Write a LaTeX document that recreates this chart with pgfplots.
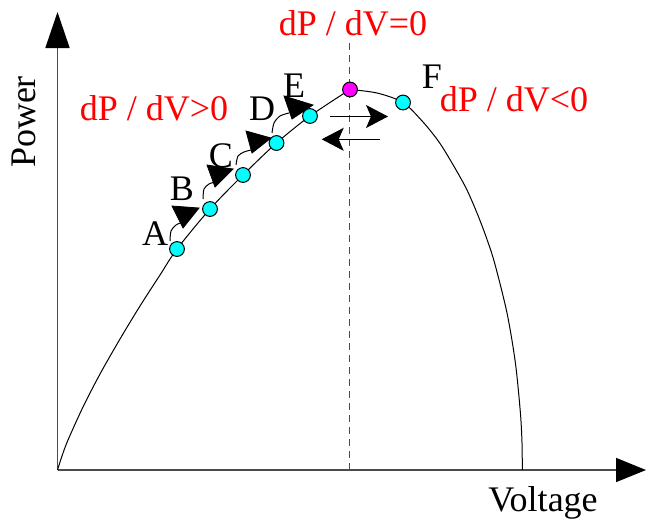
\documentclass[border=0pt]{standalone}
\usepackage{pgfplots}
\pgfplotsset{compat=1.18}
\usetikzlibrary{arrows.meta}
\usepackage{fontspec}
\setmainfont{Liberation Serif}
\definecolor{ptcyan}{RGB}{0,255,255}
\definecolor{ptmag}{RGB}{255,0,255}
\definecolor{txtred}{RGB}{255,0,0}
\newcommand\lbl{\fontsize{18}{21}\selectfont}
\begin{document}
\begin{tikzpicture}
\begin{axis}[hide axis, clip=false, scale only axis, x=0.5pt, y=0.5pt, y dir=reverse,
  xmin=0, xmax=646, ymin=0, ymax=525]
\coordinate (ll) at (axis cs:0,525);
\coordinate (ur) at (axis cs:646,0);
% axes
\addplot[line width=0.8pt, black!70, -{Triangle[length=18pt,width=12pt,color=black]}] coordinates {(57.5,470) (57.5,12)};
\addplot[line width=0.8pt, black!70, -{Triangle[length=15pt,width=12pt,color=black]}] coordinates {(57.5,470) (646,470)};
% dashed line
\addplot[black!70, line width=0.5pt, dash pattern=on 3.5pt off 2.5pt] coordinates {(349.5,43) (349.5,470)};
% P-V curve
\addplot[black, line width=0.5pt, smooth] coordinates {
(57.5,470) (62,456) (68,440) (83,407) (100,374) (120,339) (140,306) (160,275) (177,249)
(210,209) (243,175) (276.5,143) (310,116) (350,89.5)};
\addplot[black, line width=0.5pt, smooth] coordinates {
(350,89.5) (377,93) (403,102.5) (423,122) (439,142) (452,163) (466,188) (477,213) (486.5,238) (494.6,263) (507,313) (515.4,363) (520.4,413) (522,443) (522.3,470)};
% small arcs with arrowheads
\addplot[black, line width=0.5pt, smooth] coordinates {(170,241) (171,231) (176,225) (183,222)};
\addplot[black, fill=black] coordinates {(172,206) (199,208) (183,228)} -- cycle;
\addplot[black, line width=0.5pt, smooth] coordinates {(203,199) (204,189) (209,184) (215,182)};
\addplot[black, fill=black] coordinates {(207,165) (233,169) (215,187)} -- cycle;
\addplot[black, line width=0.5pt, smooth] coordinates {(236,165) (238,156) (244,152) (251,150)};
\addplot[black, fill=black] coordinates {(246,131) (271,138) (252,153)} -- cycle;
\addplot[black, line width=0.5pt, smooth] coordinates {(272,133) (274,123) (280,116) (289,113)};
\addplot[black, fill=black] coordinates {(284,96) (313,105) (292,119)} -- cycle;
% arrows near maximum
\addplot[black, line width=0.5pt, -{Stealth[length=11pt,width=11.5pt,inset=2.5pt]}] coordinates {(330,116.5) (388,116.5)};
\addplot[black, line width=0.5pt, -{Stealth[length=11pt,width=11.5pt,inset=2.5pt]}] coordinates {(380,139.3) (321.7,139.3)};
% operating points
\addplot[only marks, mark=*, mark size=3.7pt, mark options={fill=ptcyan, draw=black, line width=0.5pt}] coordinates {
(177,249) (210,209) (243,175) (276.5,143) (310,116) (403,102.5)};
\addplot[only marks, mark=*, mark size=3.7pt, mark options={fill=ptmag, draw=black, line width=0.5pt}] coordinates {(350,89.5)};
% labels
\node[anchor=base] at (axis cs:155,245) {\lbl A};
\node[anchor=base] at (axis cs:182,200) {\lbl B};
\node[anchor=base] at (axis cs:221,167) {\lbl C};
\node[anchor=base] at (axis cs:262,120) {\lbl D};
\node[anchor=base] at (axis cs:294,97) {\lbl E};
\node[anchor=base] at (axis cs:432,88) {\lbl F};
\node[anchor=base, text=txtred] at (axis cs:154,120) {\lbl dP / dV>0};
\node[anchor=base, text=txtred] at (axis cs:353,35) {\lbl dP / dV=0};
\node[anchor=base, text=txtred] at (axis cs:514,111.7) {\lbl dP / dV<0};
\node[anchor=base] at (axis cs:543,511) {\lbl Voltage};
\node[anchor=base, rotate=90] at (axis cs:35,122) {\lbl Power};
\end{axis}
\pgfresetboundingbox
\path (ll) rectangle (ur);
\end{tikzpicture}
\end{document}
